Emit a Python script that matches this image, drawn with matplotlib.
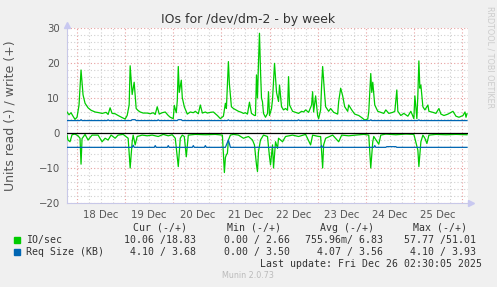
import numpy as np
import matplotlib.pyplot as plt

# hours after 18 Dec 00:00
io_write_h = [-5, -4, -3, -2, -1, 0, 1, 2, 3, 4, 5.5, 7, 9, 11, 12.5, 14.5, 15.5, 16.5, 17.5, 19, 20.5,
              22.5, 24, 25, 26, 26.5, 27.5, 28.5, 29.5, 30.5, 31.5, 33, 35, 36.5, 38, 39, 40, 41, 42.5,
              44, 45.5, 46.5, 48, 48.5, 49.5, 50, 50.5, 51, 52, 52.5, 53.5, 55, 56.5, 58, 59, 60.5,
              61.5, 62.5, 64, 65, 66.5, 68, 70, 71.5, 73, 74, 74.5, 75.5, 76, 77, 78, 79.5, 80.5, 82,
              83, 84, 85, 86, 87, 88.5, 89, 89.5, 90, 90.5, 91, 91.5, 92, 92.5, 93, 94, 95, 95.5, 96,
              97, 97.5, 98.5, 99.5, 100.5, 101, 102, 103, 104, 105, 105.5, 106, 107.5, 109, 110.5,
              112, 113, 114, 115.5, 117, 117.5, 118, 119, 120, 120.5, 121.5, 122, 122.5, 123.5, 124,
              125.5, 126.5, 128, 130, 130.5, 131.5, 132.5, 133.5, 135, 135.5, 137, 138.5, 140.5, 142,
              143.5, 145, 145.5, 146.5, 147, 147.5, 148.5, 150, 151.5, 153, 154, 155.5, 157.5, 158.5,
              159.5, 160, 161.5, 163, 165, 166.5, 167.5, 168, 168.5, 169.5, 170, 170.5, 171, 171.5,
              172.5, 173.5, 175, 175.5, 177.5, 179, 180.5, 181.5, 183, 185, 187.5, 189, 190.5, 192.5,
              193.5, 194, 194.5]
io_write = [6.0, 5.2, 5.8, 4.8, 3.9, 4.5, 8.0, 18.0, 10.9, 8.5, 7.2, 6.5, 6.0, 5.8, 5.6, 5.9, 5.3, 7.2,
            5.6, 5.5, 5.0, 4.4, 4.0, 5.0, 8.0, 19.2, 11.0, 14.5, 7.0, 6.4, 6.0, 5.7, 5.7, 5.5, 5.8, 5.3,
            7.5, 5.4, 5.8, 6.0, 5.0, 4.5, 4.1, 7.9, 5.8, 9.2, 19.0, 11.6, 15.1, 10.1, 7.5, 5.4, 6.0,
            5.8, 6.2, 5.5, 8.0, 5.7, 6.0, 5.7, 5.9, 6.0, 5.0, 4.1, 4.8, 8.5, 7.0, 20.4, 14.0, 7.5, 7.0,
            6.5, 6.2, 5.9, 5.6, 5.8, 5.4, 8.8, 5.6, 5.0, 5.0, 16.6, 10.0, 20.0, 28.5, 18.0, 10.0, 8.9,
            5.6, 4.5, 5.6, 11.8, 5.0, 7.0, 9.5, 19.9, 11.6, 9.0, 13.7, 7.5, 6.6, 7.0, 6.5, 16.1, 8.0,
            6.2, 5.9, 5.6, 6.2, 6.0, 6.6, 5.9, 8.0, 11.8, 6.0, 10.6, 5.0, 4.1, 6.6, 13.7, 19.0, 11.0,
            7.5, 6.2, 7.0, 5.9, 5.4, 9.0, 12.8, 10.6, 7.5, 6.2, 8.0, 6.6, 5.4, 5.0, 4.4, 3.7, 4.0, 6.0,
            17.0, 11.6, 14.5, 8.0, 6.2, 5.9, 5.6, 6.6, 5.6, 5.9, 6.2, 12.3, 6.2, 5.0, 5.6, 4.8, 6.2,
            4.8, 4.1, 10.6, 4.1, 11.0, 20.6, 12.8, 13.7, 7.5, 6.6, 8.0, 6.2, 5.9, 5.6, 7.0, 5.4, 5.0,
            5.4, 6.2, 4.8, 4.5, 5.0, 6.0, 4.5, 5.5]

io_read_h = [-5, -4.5, -3.5, -2.5, -1, 0.5, 1.5, 2, 2.5, 4, 5.5, 7.5, 10.5, 12.5, 14, 15.5, 17, 19,
             20.5, 23, 25.5, 26.5, 27.5, 28, 29, 30, 32.5, 35, 37.5, 40.5, 43, 45.5, 47.5, 49, 50.5,
             51.5, 52.5, 53.5, 54.5, 55.5, 59, 64, 69, 72.5, 73.5, 74, 74.5, 75, 75.5, 76.5, 78, 80.5,
             83, 85.5, 87.5, 88.5, 89.5, 90, 90.5, 91.5, 93, 95, 96, 96.5, 97.5, 98, 99, 100, 100.5,
             102.5, 104, 107.5, 110.5, 114, 116.5, 117.5, 120.5, 121.5, 122.5, 123, 124, 127.5, 130.5,
             132, 135.5, 139, 143, 145.5, 146.5, 147.5, 148, 150.5, 151.5, 154, 159, 164, 168, 168.5,
             170, 170.5, 171.5, 172.5, 173.5, 174.5, 175.5, 179, 184, 189, 194.5]
io_read = [-0.6, -2.0, -2.5, -0.5, -0.3, -0.8, -1.5, -8.9, -1.6, -0.4, -2.0, -0.6, -0.6, -2.5, -1.5,
           -2.0, -0.6, -1.5, -0.6, -0.4, -1.5, -10.0, -2.5, -0.6, -3.4, -1.0, -0.6, -0.8, -0.6, -1.0,
           -0.4, -0.8, -0.5, -1.5, -9.6, -1.5, -0.6, -1.0, -6.8, -0.6, -0.4, -0.5, -0.4, -0.6, -11.3,
           -7.0, -6.2, -5.8, -2.0, -0.6, -0.4, -0.6, -1.5, -1.0, -2.0, -3.4, -9.1, -11.0, -5.3, -2.0,
           -0.6, -1.0, -6.8, -9.1, -3.4, -10.0, -2.5, -4.4, -1.5, -2.5, -1.0, -0.6, -1.0, -0.4, -3.4,
           -0.6, -1.0, -1.0, -10.0, -3.4, -1.5, -0.6, -2.5, -0.6, -0.8, -0.6, -0.4, -0.6, -10.0, -2.5,
           -1.0, -3.2, -0.6, -0.3, -0.5, -0.3, -0.4, -1.5, -4.9, -9.6, -2.5, -0.6, -1.5, -3.0, -0.6,
           -0.4, -0.5, -0.4, -0.5]

size_write_h = [-5, 1.5, 2, 2.5, 15, 15.5, 16, 27, 27.5, 29, 29.5, 40, 40.5, 41, 50, 50.5, 52, 52.5,
                75, 75.5, 76, 110, 110.5, 111, 146, 146.5, 147, 170, 170.5, 171, 194.5]
size_write = [3.55, 3.55, 3.8, 3.55, 3.55, 3.75, 3.55, 3.55, 3.8, 3.8, 3.55, 3.55, 3.75, 3.55, 3.55,
              3.8, 3.8, 3.55, 3.55, 3.75, 3.55, 3.55, 3.75, 3.55, 3.55, 3.75, 3.55, 3.55, 3.75, 3.55,
              3.55]

size_read_h = [-5, 27.5, 28, 28.5, 38.5, 39, 39.5, 45, 45.5, 46, 57.5, 58, 58.5, 63.5, 64, 64.5, 74,
               75.5, 76.5, 77, 121.5, 122, 122.5, 148, 148.5, 149, 154, 154.5, 159, 159.5, 194.5]
size_read = [-4.1, -4.1, -3.5, -4.1, -4.1, -3.6, -4.1, -4.1, -3.6, -4.1, -4.1, -3.6, -4.1, -4.1, -3.6,
             -4.1, -4.1, -2.0, -4.1, -4.1, -4.1, -3.6, -4.1, -4.1, -3.6, -4.1, -4.1, -3.9, -3.9, -4.1,
             -4.1]

day_labels = ['18 Dec', '19 Dec', '20 Dec', '21 Dec', '22 Dec', '23 Dec', '24 Dec', '25 Dec']

GREEN = '#00CC00'
BLUE = '#0066B3'
W, H = 497, 287

fig = plt.figure(figsize=(W / 100, H / 100), dpi=100, facecolor='#F0F0F0')
ax = fig.add_axes([67 / W, 1 - 203 / H, 401 / W, 175 / H])
ax.set_facecolor('white')
ax.set_xlim(-5, 195)
ax.set_ylim(-20, 30)

# grid: 6h minor / day major, 2 units minor / 10 major
for h in range(0, 195, 6):
    c = '#E8A0A0' if h % 24 == 0 else '#D0D0D0'
    ax.axvline(h, color=c, lw=0.8, ls=(0, (1, 2)), zorder=0)
for y in range(-20, 31, 2):
    c = '#E8A0A0' if y % 10 == 0 else '#D0D0D0'
    ax.axhline(y, color=c, lw=0.8, ls=(0, (1, 2)), zorder=0)

ax.plot(io_write_h, io_write, color=GREEN, lw=0.9, zorder=3)
ax.plot(io_read_h, io_read, color=GREEN, lw=0.9, zorder=3)
ax.plot(size_write_h, size_write, color=BLUE, lw=0.9, zorder=3)
ax.plot(size_read_h, size_read, color=BLUE, lw=0.9, zorder=3)
ax.axhline(0, color='black', lw=0.9, zorder=4)

for s in ['top', 'right']:
    ax.spines[s].set_visible(False)
for s in ['left', 'bottom']:
    ax.spines[s].set_color('#C8C8E8')
    ax.spines[s].set_linewidth(0.8)
ax.plot([0], [1.015], marker='^', color='#C8C8F0', ms=5, transform=ax.transAxes, clip_on=False)
ax.plot([1.008], [0], marker='>', color='#C8C8F0', ms=5, transform=ax.transAxes, clip_on=False)

ax.set_xticks([12 + 24 * i for i in range(len(day_labels))])
ax.set_xticklabels(day_labels)
ax.set_yticks(range(-20, 31, 10))
ax.tick_params(length=0, labelsize=7.3, labelcolor='#555555', pad=5)
ax.set_ylabel('Units read (-) / write (+)', fontsize=9, color='#555555', labelpad=16)

fig.text(248 / W, 1 - 19 / H, 'IOs for /dev/dm-2 - by week', ha='center', va='center',
         fontsize=9, color='#333333')
fig.text(490 / W, 1 - 6 / H, 'RRDTOOL / TOBI OETIKER', rotation=270, ha='center', va='top',
         fontsize=5.8, color='#CCCCCC')

mono = dict(family='DejaVu Sans Mono', fontsize=7.1, color='#333333', va='center')
rows_y = [228, 240, 252, 264]
cols_x = [196, 290, 383, 476]
headers = ['Cur (-/+)', 'Min (-/+)', 'Avg (-/+)', 'Max (-/+)']
io_stats = ['10.06 /18.83', '0.00 / 2.66', '755.96m/ 6.83', '57.77 /51.01']
size_stats = ['4.10 / 3.68', '0.00 / 3.50', '4.07 / 3.56', '4.10 / 3.93']
for x, t in zip(cols_x, headers):
    fig.text((x - 9) / W, 1 - rows_y[0] / H, t, ha='right', **mono)
for x, t in zip(cols_x, io_stats):
    fig.text(x / W, 1 - rows_y[1] / H, t, ha='right', **mono)
for x, t in zip(cols_x, size_stats):
    fig.text(x / W, 1 - rows_y[2] / H, t, ha='right', **mono)
fig.text(26 / W, 1 - rows_y[1] / H, 'IO/sec', ha='left', **mono)
fig.text(26 / W, 1 - rows_y[2] / H, 'Req Size (KB)', ha='left', **mono)
fig.patches.append(plt.Rectangle((14 / W, 1 - 243 / H), 6 / W, 6 / H, color=GREEN, transform=fig.transFigure))
fig.patches.append(plt.Rectangle((14 / W, 1 - 255 / H), 6 / W, 6 / H, color=BLUE, transform=fig.transFigure))
fig.text(482 / W, 1 - rows_y[3] / H, 'Last update: Fri Dec 26 02:30:05 2025', ha='right', **mono)
fig.text(248 / W, 1 - 276 / H, 'Munin 2.0.73', ha='center', va='center', fontsize=5.8, color='#BBBBBB')

fig.savefig('out.png', dpi=100, facecolor=fig.get_facecolor())
